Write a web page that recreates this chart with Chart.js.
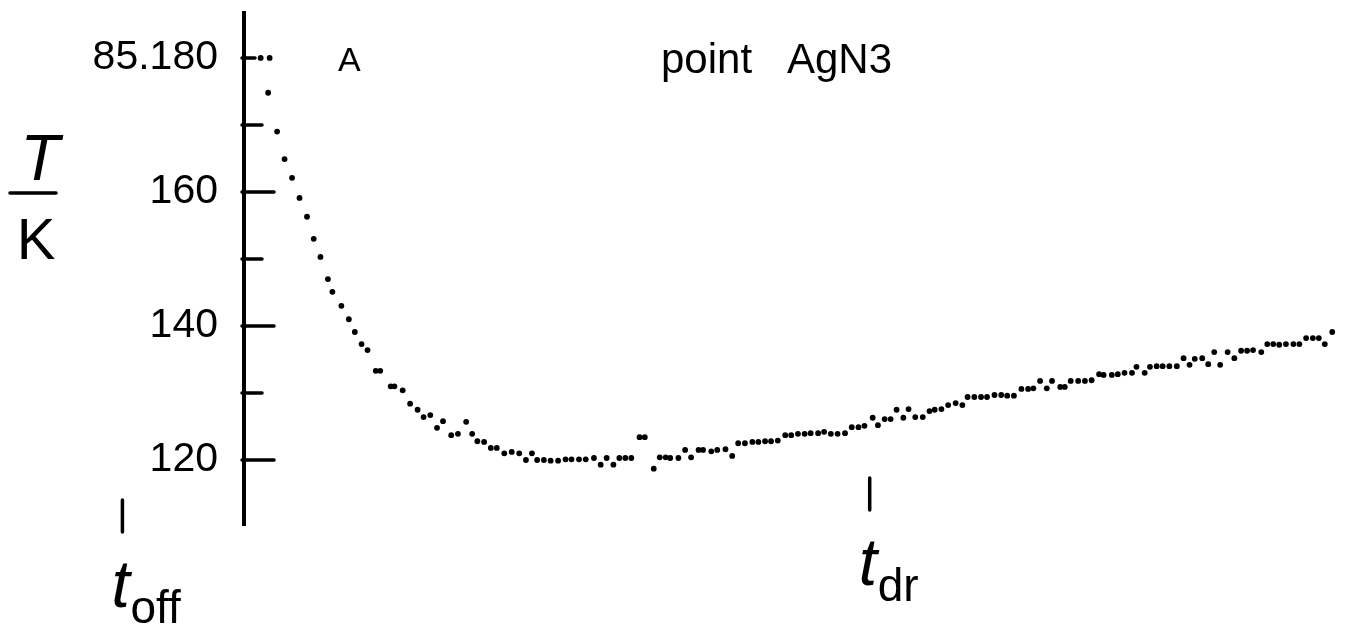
<!DOCTYPE html>
<html>
<head>
<meta charset="utf-8">
<title>point AgN3</title>
<script src="https://cdn.jsdelivr.net/npm/chart.js@4.4.1/dist/chart.umd.min.js"></script>
<style>
  html, body { margin: 0; padding: 0; background: #fff; }
  #wrap { width: 1348px; height: 629px; }
</style>
</head>
<body>
<div id="wrap"><canvas id="grafica" width="1348" height="629"></canvas></div>
<script>
/* Enfriamiento del punto AgN3: temperatura frente al tiempo
   tiempo en unidades del registrador (t_off = 0, t_dr = 100) */

const tiempo = [
  18.5, 19.7, 19.5, 20.7, 21.7, 22.7, 23.7, 24.7, 25.6, 26.5,
  27.5, 28.1, 29.3, 30.3, 31.1, 32.0, 32.8, 33.9, 34.5, 35.9,
  36.4, 37.5, 38.5, 39.5, 40.3, 41.2, 42.1, 42.9, 44.0, 44.9,
  46.0, 46.8, 47.5, 48.4, 49.3, 50.1, 51.1, 52.1, 53.1, 54.0,
  54.8, 55.5, 56.4, 57.3, 58.3, 59.3, 60.1, 61.1, 62.0, 63.1,
  64.0, 64.8, 65.7, 66.5, 67.3, 68.1, 69.2, 69.9, 71.1, 71.9,
  72.7, 73.3, 74.4, 75.3, 76.1, 77.1, 77.7, 78.8, 79.6, 80.7,
  81.6, 82.4, 83.3, 84.3, 85.1, 86.0, 86.8, 87.7, 88.7, 89.5,
  90.4, 91.3, 92.1, 93.1, 93.9, 94.8, 95.7, 96.7, 97.6, 98.5,
  99.3, 100.4, 101.1, 102.0, 102.8, 103.6, 104.5, 105.2, 106.1, 107.1,
  108.0, 108.7, 109.6, 110.5, 111.5, 112.4, 113.1, 114.0, 114.9, 115.7,
  116.7, 117.6, 118.4, 119.3, 120.3, 121.2, 121.9, 122.8, 123.7, 124.4,
  125.5, 126.1, 126.9, 127.9, 128.8, 129.7, 130.7, 131.3, 132.4, 133.2,
  134.1, 135.1, 135.7, 136.8, 137.5, 138.4, 139.2, 140.1, 141.1, 142.0,
  142.8, 143.5, 144.5, 145.3, 146.1, 146.9, 147.9, 148.8, 149.7, 150.5,
  151.3, 152.4, 153.2, 154.0, 154.8, 155.7, 156.7, 157.5, 158.4, 159.3,
  160.1, 160.9, 161.9
];

const temperatura = [
  180.0, 180.0, 174.8, 169.0, 164.9, 162.1, 159.1, 156.3, 153.0, 150.3,
  147.0, 145.1, 143.0, 141.0, 139.1, 137.3, 136.4, 133.3, 133.3, 131.0,
  131.0, 130.4, 128.4, 127.5, 126.4, 126.7, 124.8, 125.8, 123.7, 123.9,
  125.7, 123.9, 122.8, 122.7, 121.8, 121.8, 121.0, 121.2, 121.0, 120.0,
  121.0, 120.0, 120.0, 119.9, 119.9, 120.1, 120.1, 120.1, 120.1, 120.3,
  119.3, 120.3, 119.3, 120.3, 120.3, 120.3, 123.4, 123.4, 118.7, 120.4,
  120.4, 120.3, 120.3, 121.5, 120.4, 121.5, 121.5, 121.3, 121.5, 121.6,
  120.6, 122.5, 122.5, 122.7, 122.7, 122.8, 122.8, 122.9, 123.7, 123.7,
  123.9, 123.9, 124.0, 124.0, 124.2, 123.9, 123.9, 124.0, 124.9, 124.9,
  125.1, 126.3, 125.2, 126.1, 126.1, 127.5, 126.3, 127.6, 126.4, 126.4,
  127.3, 127.5, 127.6, 128.2, 128.5, 128.2, 129.4, 129.4, 129.4, 129.4,
  129.7, 129.7, 129.6, 129.6, 130.6, 130.6, 130.7, 131.8, 130.7, 131.8,
  130.9, 130.9, 131.8, 131.8, 131.8, 131.9, 132.8, 132.7, 132.7, 132.8,
  133.0, 133.0, 133.9, 133.0, 133.9, 134.0, 134.0, 134.0, 134.0, 135.2,
  134.2, 135.1, 135.2, 134.3, 136.1, 134.2, 136.1, 135.2, 136.3, 136.3,
  136.4, 136.1, 137.3, 137.3, 137.2, 137.3, 137.3, 137.3, 138.2, 138.2,
  138.2, 137.3, 139.1
];

const ticksMayores = [180, 160, 140, 120];
const ticksMenores = [170, 150, 130];
const etiquetasY = { 180: '85.180', 160: '160', 140: '140', 120: '120' };

const marcasTiempo = [0, 100];     // t_off, t_dr
const subindices = ['off', 'dr'];

/* ---------- Estilo ---------- */
const NEGRO = '#000';
const FUENTE = "'Liberation Sans', Arial, sans-serif";
const GROSOR = 3.5;

function linea(ctx, x1, y1, x2, y2) {
  ctx.beginPath();
  ctx.moveTo(x1, y1);
  ctx.lineTo(x2, y2);
  ctx.stroke();
}

// Marcas del eje hacia dentro, trazos de t_off / t_dr y rotulos sueltos
const anotaciones = {
  id: 'anotaciones',
  afterDraw(chart) {
    const { ctx, chartArea: ca, scales: { x, y } } = chart;
    const eje = ca.left - 2;
    ctx.save();
    ctx.strokeStyle = NEGRO;
    ctx.fillStyle = NEGRO;
    ctx.lineWidth = GROSOR;
    ctx.lineCap = 'round';

    ticksMayores.forEach(v => {
      const py = y.getPixelForValue(v);
      linea(ctx, eje, py, eje + (v === 180 ? 13 : 32), py);
    });
    ticksMenores.forEach(v => {
      const py = y.getPixelForValue(v);
      linea(ctx, eje, py, eje + 20, py);
    });

    // t_off y t_dr bajo el eje de tiempo
    const arriba = [ca.bottom - 25, ca.bottom - 47];
    marcasTiempo.forEach((t, i) => {
      const px = x.getPixelForValue(t);
      const y0 = arriba[i];
      linea(ctx, px, y0, px, y0 + 32);
      ctx.textAlign = 'left';
      ctx.textBaseline = 'alphabetic';
      ctx.font = 'italic 66px ' + FUENTE;
      ctx.fillText('t', px - 11, y0 + 107);
      ctx.font = '46px ' + FUENTE;
      ctx.fillText(subindices[i], px + 8, y0 + 123);
    });

    // T / K
    ctx.textAlign = 'center';
    ctx.font = 'italic 64px ' + FUENTE;
    ctx.fillText('T', 40, 180);
    linea(ctx, 10, 193, 56, 193);
    ctx.font = '58px ' + FUENTE;
    ctx.fillText('K', 36, 259);

    ctx.textAlign = 'left';
    ctx.font = '34px ' + FUENTE;
    ctx.fillText('A', 338, 71);
    ctx.font = '42px ' + FUENTE;
    ctx.fillText('point', 661, 73);
    ctx.fillText('AgN3', 787, 73);
    ctx.restore();
  }
};

new Chart(document.getElementById('grafica'), {
  type: 'scatter',
  data: {
    datasets: [{
      label: 'point AgN3',
      data: tiempo.map((t, i) => ({ x: t, y: temperatura[i] })),
      backgroundColor: NEGRO,
      borderWidth: 0,
      pointRadius: 2.9,
    }],
  },
  options: {
    responsive: false,
    animation: false,
    layout: { padding: { top: 13, bottom: 104, left: 0, right: 0 } },
    plugins: { legend: { display: false }, tooltip: { enabled: false } },
    scales: {
      x: { type: 'linear', display: false, min: 16.27, max: 163.47 },
      y: {
        type: 'linear',
        min: 110.3,
        max: 186.7,
        afterBuildTicks: scale => { scale.ticks = ticksMayores.map(v => ({ value: v })); },
        // ancho fijo del eje y sin relleno extra arriba/abajo por las etiquetas
        afterFit: scale => {
          scale.width = 244;
          scale.paddingTop = 0;
          scale.paddingBottom = 0;
        },
        grid: { display: false, drawTicks: false },
        border: { display: true, color: NEGRO, width: 4 },
        ticks: {
          color: NEGRO,
          padding: 26,
          font: { family: FUENTE, size: 41 },
          callback: v => etiquetasY[v] || '',
        },
      },
    },
  },
  plugins: [anotaciones],
});
</script>
</body>
</html>
